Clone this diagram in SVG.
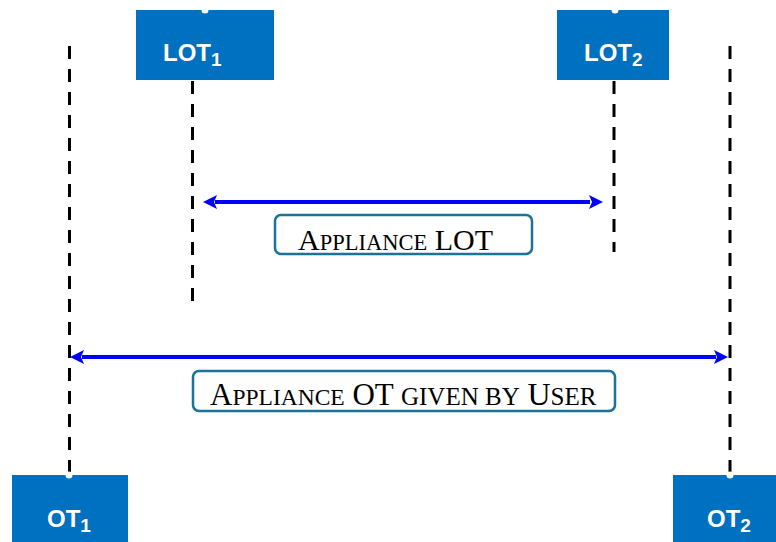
<svg xmlns="http://www.w3.org/2000/svg" width="776" height="542" viewBox="0 0 776 542">
  <style>
    .box { fill: #0070C0; }
    .notch { fill: #FFFFFF; }
    .btxt { font-family: "Liberation Sans", Arial, sans-serif; font-weight: bold; font-size: 24px; fill: #FFFFFF; }
    .sub { font-size: 19px; }
    .dash { stroke: #000000; stroke-width: 3; stroke-dasharray: 13 10; fill: none; }
    .arrow { stroke: #0000FF; stroke-width: 4; fill: none; }
    .head { fill: #0000FF; }
    .lbl { fill: #FFFFFF; stroke: #1B7399; stroke-width: 2.5; }
    .ltxt { font-family: "Liberation Serif", "Times New Roman", serif; font-size: 30px; fill: #000000; }
    .sc { font-size: 22.5px; }
    .ltxt2 { font-size: 31px; }
    .sc2a { font-size: 23.5px; }
    .sc2 { font-size: 25px; }
    .cap2 { font-size: 32px; }
  </style>

  <!-- dashed time lines and span arrows -->
  <g id="connectors">
    <line class="dash" x1="69.5" y1="46" x2="69.5" y2="475"/>
    <line class="dash" x1="730" y1="46" x2="730" y2="475"/>
    <line class="dash" x1="192.5" y1="81" x2="192.5" y2="305"/>
    <line class="dash" x1="614" y1="81" x2="614" y2="252"/>

    <!-- LOT span -->
    <line class="arrow" x1="215" y1="202" x2="590" y2="202"/>
    <path class="head" d="M203,202 L217,195 L214,202 L217,209 Z"/>
    <path class="head" d="M603,202 L589,195 L592,202 L589,209 Z"/>

    <!-- OT span -->
    <line class="arrow" x1="82" y1="357" x2="716" y2="357"/>
    <path class="head" d="M70,357 L84,350 L81,357 L84,364 Z"/>
    <path class="head" d="M728,357 L714,350 L717,357 L714,364 Z"/>
  </g>

  <g id="lot1">
    <rect class="box" x="136" y="10" width="138" height="70"/>
    <circle class="notch" cx="205" cy="10" r="3.5"/>
    <text class="btxt" x="163" y="61">LOT<tspan class="sub" dy="5">1</tspan></text>
  </g>

  <g id="lot2">
    <rect class="box" x="557" y="10" width="112" height="70"/>
    <circle class="notch" cx="615" cy="10" r="3.5"/>
    <text class="btxt" x="584" y="61">LOT<tspan class="sub" dy="5">2</tspan></text>
  </g>

  <g id="ot1">
    <rect class="box" x="12" y="475" width="116" height="67"/>
    <circle class="notch" cx="69" cy="475" r="3.5"/>
    <text class="btxt" x="47" y="527">OT<tspan class="sub" dy="5">1</tspan></text>
  </g>

  <g id="ot2">
    <rect class="box" x="673" y="475" width="103" height="67"/>
    <circle class="notch" cx="730" cy="475" r="3.5"/>
    <text class="btxt" x="707" y="527">OT<tspan class="sub" dy="5">2</tspan></text>
  </g>

  <g id="label-lot">
    <rect class="lbl" x="275" y="215" width="257" height="39" rx="6"/>
    <text class="ltxt" x="298" y="250">A<tspan class="sc">PPLIANCE</tspan> LOT</text>
  </g>

  <g id="label-ot">
    <rect class="lbl" x="193" y="371" width="422" height="40" rx="6"/>
    <text class="ltxt ltxt2" x="210" y="405">A<tspan class="sc2a">PPLIANCE</tspan> OT <tspan class="sc2">GIVEN BY</tspan> <tspan class="cap2">U</tspan><tspan class="sc2">SER</tspan></text>
  </g>
</svg>
